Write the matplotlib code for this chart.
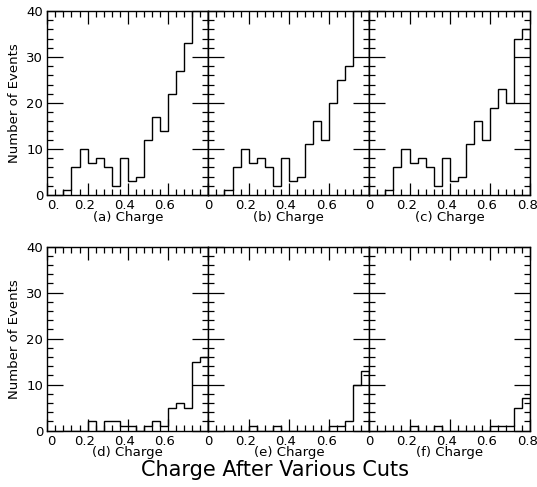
import matplotlib
matplotlib.use('Agg')
import matplotlib.pyplot as plt
from matplotlib.ticker import MultipleLocator
from matplotlib.transforms import ScaledTranslation

plt.rcParams['font.family'] = ['DejaVu Sans']

# bin edges of the charge histograms (0.04 wide)
edges = [0.08, 0.12, 0.16, 0.20, 0.24, 0.28, 0.32, 0.36, 0.40, 0.44,
         0.48, 0.52, 0.56, 0.60, 0.64, 0.68, 0.72, 0.76, 0.80]

counts_a = [1, 6, 10, 7, 8, 6, 2, 8, 3, 4, 12, 17, 14, 22, 27, 33, 45, 48]
counts_b = [1, 6, 10, 7, 8, 6, 2, 8, 3, 4, 11, 16, 12, 20, 25, 28, 42, 45]
counts_c = [1, 6, 10, 7, 8, 6, 2, 8, 3, 4, 11, 16, 12, 19, 23, 20, 34, 36]
counts_d = [0, 0, 0, 2, 0, 2, 2, 1, 1, 0, 1, 2, 1, 5, 6, 5, 15, 16]
counts_e = [0, 0, 0, 1, 0, 0, 1, 0, 0, 0, 0, 0, 0, 1, 1, 2, 10, 13]
counts_f = [0, 0, 0, 1, 0, 0, 1, 0, 0, 0, 0, 0, 0, 1, 1, 1, 5, 7]

panels = [('(a) Charge', counts_a), ('(b) Charge', counts_b), ('(c) Charge', counts_c),
          ('(d) Charge', counts_d), ('(e) Charge', counts_e), ('(f) Charge', counts_f)]

y_ticks = [0, 10, 20, 30, 40]
x_ticks = [0, 0.2, 0.4, 0.6, 0.8]

fig = plt.figure(figsize=(5.37, 4.87), dpi=100)

lefts = [0.0881, 0.388, 0.6877]
bottoms = [0.5996, 0.1156]
w, h = 0.2998, 0.378
shift = ScaledTranslation(-3 / 100, 0, fig.dpi_scale_trans)

for i, (name, counts) in enumerate(panels):
    row, col = divmod(i, 3)
    ax = fig.add_axes([lefts[col], bottoms[row], w, h])
    ax.stairs(counts, edges, baseline=0, color='k', lw=1.0)
    ax.set_xlim(0, 0.8)
    ax.set_ylim(0, 40)
    for s in ax.spines.values():
        s.set_linewidth(1.0)

    ax.xaxis.set_major_locator(MultipleLocator(0.2))
    ax.xaxis.set_minor_locator(MultipleLocator(0.04))
    ax.yaxis.set_major_locator(MultipleLocator(10))
    ax.yaxis.set_minor_locator(MultipleLocator(2))
    ax.tick_params(which='both', direction='in', top=True, right=True, width=0.9)
    ax.tick_params(axis='y', which='major', length=11.5)
    ax.tick_params(axis='x', which='major', length=9)
    ax.tick_params(which='minor', length=4.5)
    ax.tick_params(axis='x', pad=3, labelsize=9.5)
    ax.tick_params(axis='y', pad=3, labelsize=9.5)

    xl = ['0', '0.2', '0.4', '0.6', '0.8' if col == 2 else '']
    if i == 0:
        xl[0] = '0.'
    ax.set_xticks(x_ticks)
    ax.set_xticklabels(xl)
    labs = ax.get_xticklabels()
    for lab in labs[1:]:
        lab.set_transform(lab.get_transform() + shift)
    if col == 0:
        labs[0].set_ha('left')
    ax.set_yticks(y_ticks)
    if col == 0:
        ax.set_yticklabels([str(v) for v in y_ticks])
        ax.set_ylabel('Number of Events', fontsize=9.5, labelpad=4)
    else:
        ax.set_yticklabels([])
    ax.set_xlabel(name, fontsize=9.5, labelpad=-1)

fig.text(0.512, 0.035, 'Charge After Various Cuts', ha='center', va='center', fontsize=15)

fig.savefig('out.png', dpi=100)
